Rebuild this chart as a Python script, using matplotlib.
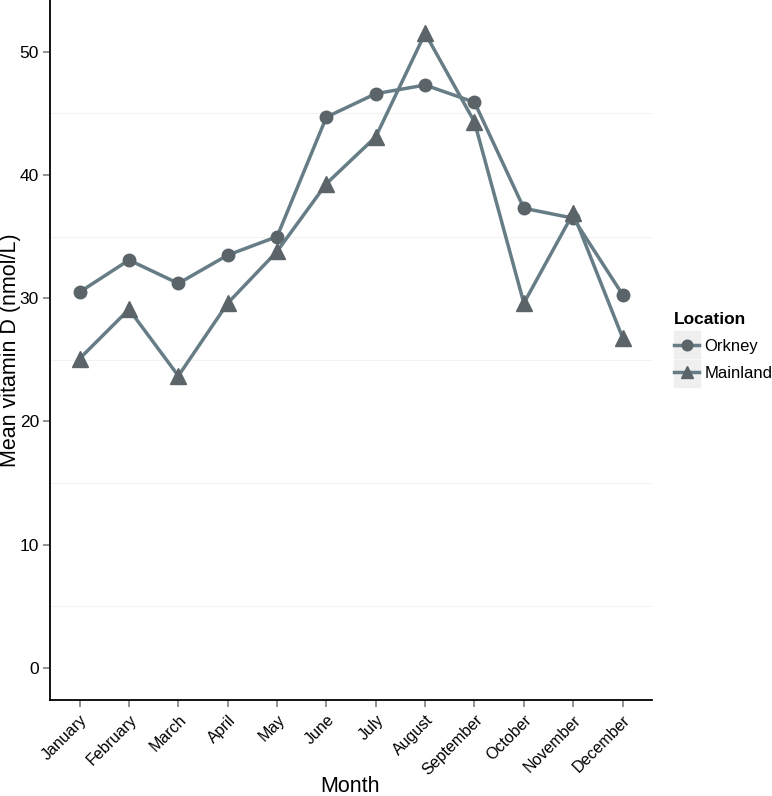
import matplotlib.pyplot as plt
from matplotlib.patches import Rectangle
from matplotlib.ticker import MultipleLocator

plt.rcParams["font.family"] = ["Liberation Sans", "DejaVu Sans"]

# Data
months = ["January", "February", "March", "April", "May", "June", "July",
          "August", "September", "October", "November", "December"]
orkney = [30.5, 33.1, 31.2, 33.5, 35.0, 44.7, 46.6, 47.3, 45.9, 37.3, 36.5, 30.3]
mainland = [25.1, 29.1, 23.7, 29.6, 33.8, 39.3, 43.1, 51.5, 44.3, 29.6, 36.9, 26.8]

line_col = "#667d86"
mark_col = "#5b6468"

fig = plt.figure(figsize=(7.72, 7.96), dpi=100)
ax = fig.add_axes([0.0648, 0.1206, 0.78, 0.8794])

x = list(range(1, len(months) + 1))
ax.plot(x, orkney, color=line_col, lw=2.5, marker="o", ms=9,
        mfc=mark_col, mec=mark_col, label="Orkney", zorder=3)
ax.plot(x, mainland, color=line_col, lw=2.5, marker="^", ms=11,
        mfc=mark_col, mec=mark_col, label="Mainland", zorder=3)

ax.set_xlim(0.4, 12.6)
ax.set_ylim(-2.6, 54.2)
ax.set_xticks(x)
ax.set_xticklabels(months, rotation=45, ha="right", rotation_mode="anchor",
                   fontsize=11.5)
ax.yaxis.set_major_locator(MultipleLocator(10))
ax.yaxis.set_minor_locator(MultipleLocator(5))
ax.tick_params(axis="y", labelsize=12.5, pad=3)
ax.tick_params(axis="x", pad=4)
ax.tick_params(which="major", color="#7f7f7f", length=5, width=1.2)
ax.tick_params(which="minor", length=0)
ax.grid(which="minor", axis="y", color="#f2f2f2", lw=0.8)
ax.set_axisbelow(True)

for side in ["top", "right"]:
    ax.spines[side].set_visible(False)
for side in ["left", "bottom"]:
    ax.spines[side].set_linewidth(1.3)

ax.set_xlabel("Month", fontsize=15.5, va="center")
ax.set_ylabel("Mean vitamin D (nmol/L)", fontsize=15.5, va="center")
ax.xaxis.set_label_coords(0.498, -0.124)
ax.yaxis.set_label_coords(-0.066, 0.5)

# legend with grey key boxes
for yk in [0.550, 0.514]:
    fig.patches.append(Rectangle((0.873, yk), 0.034, 0.034,
                                 transform=fig.transFigure,
                                 color="#efefef", zorder=0))
leg = fig.legend(loc="upper left", bbox_to_anchor=(0.867, 0.614),
                 frameon=False, title="Location", fontsize=12,
                 handlelength=1.5, handletextpad=0.3, labelspacing=0.72,
                 borderaxespad=0, borderpad=0.3, markerscale=0.85)
leg.get_title().set_fontweight("bold")
leg.get_title().set_fontsize(12.5)
leg._legend_box.align = "left"

fig.savefig("out.png", dpi=100)
